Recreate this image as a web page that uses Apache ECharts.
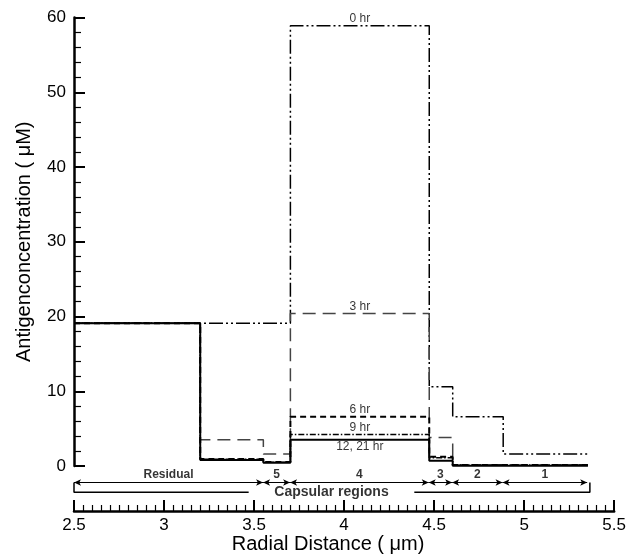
<!DOCTYPE html>
<html>
<head>
<meta charset="utf-8">
<script src="https://cdn.jsdelivr.net/npm/echarts@6/dist/echarts.min.js"></script>
<style>
  html, body { margin: 0; padding: 0; background: #fff; }
  #main { width: 629px; height: 556px; }
</style>
</head>
<body>
<div id="main"></div>
<script>
// step profiles: edges (um) and the level (uM) between each pair of edges
var edges0 = [2.5, 3.7, 4.47, 4.6, 4.88, 5.35];
var hr0 = [19.1, 58.9, 10.6, 6.6, 1.6];
var edgesT = [2.5, 3.2, 3.55, 3.7, 4.47, 4.6, 5.35];
var hr3 = [19.1, 3.5, 1.6, 20.4, 3.8, 0.15];
var hr6 = [19.1, 0.95, 0.55, 6.6, 1.25, 0.15];
var hr9 = [19.1, 0.9, 0.5, 4.2, 1.1, 0.15];
var hr12 = [19.1, 0.8, 0.45, 3.5, 0.7, 0.05];

var timeNames = ['0 hr', '3 hr', '6 hr', '9 hr', '12, 21 hr'];

// region annotation below the axis
var regionEdges = [2.5, 3.55, 3.7, 4.47, 4.6, 4.88, 5.35];
var regionNames = ['Residual', '5', '4', '3', '2', '1'];
var bracketLeft = [2.5, 3.47];
var bracketRight = [4.39, 5.365];

var font = 'Liberation Sans, Arial, sans-serif';

function steps(edges, levels) {
	return edges.map(function (x, i) {
		return [x, levels[Math.min(i, levels.length - 1)]];
	});
}

function profile(name, edges, levels, lineStyle, z) {
	return {
		name: name,
		type: 'line',
		step: 'end',
		symbol: 'none',
		z: z,
		data: steps(edges, levels),
		lineStyle: lineStyle
	};
}

var myChart = echarts.init(document.getElementById('main'));

var arrowY = -2.2, bracketY = -3.5, labelY = -1.1;

var timeLabelData = [
	[(edges0[1] + edges0[2]) / 2, hr0[1], timeNames[0], 'top'],
	[(edgesT[3] + edgesT[4]) / 2, hr3[3], timeNames[1], 'top'],
	[(edgesT[3] + edgesT[4]) / 2, hr6[3], timeNames[2], 'top'],
	[(edgesT[3] + edgesT[4]) / 2, hr9[3], timeNames[3], 'top'],
	[(edgesT[3] + edgesT[4]) / 2, hr12[3], timeNames[4], 'bottom']
];

var regionLabelData = regionNames.map(function (n, i) {
	return [(regionEdges[i] + regionEdges[i + 1]) / 2, labelY, n];
});

var option = {
	animation: false,
	grid: [
		{ left: 74, right: 14, top: 17.5, height: 448.5 },
		{ left: 74, right: 14, top: 466, height: 45 }
	],
	xAxis: [
		{ gridIndex: 0, type: 'value', min: 2.5, max: 5.5, show: false },
		{
			gridIndex: 1, type: 'value', min: 2.5, max: 5.5, interval: 0.5,
			position: 'bottom',
			name: 'Radial Distance ( \u03bcm)',
			nameLocation: 'middle',
			nameGap: 21,
			nameTextStyle: { fontFamily: font, fontSize: 20, color: '#000', padding: [0, 32, 0, 0] },
			axisLine: { onZero: false, lineStyle: { color: '#000', width: 2.5 } },
			axisTick: { inside: true, length: 11, lineStyle: { color: '#000', width: 2 } },
			minorTick: { show: true, splitNumber: 10, length: 6, lineStyle: { color: '#000', width: 1.2 } },
			axisLabel: { fontFamily: font, fontSize: 17, color: '#000', margin: 6 },
			splitLine: { show: false }
		}
	],
	yAxis: [
		{
			gridIndex: 0, type: 'value', min: 0, max: 60, interval: 10,
			name: 'Antigenconcentration ( \u03bcM)',
			nameLocation: 'middle',
			nameGap: 40,
			nameTextStyle: { fontFamily: font, fontSize: 20, color: '#000' },
			axisLine: { show: true, onZero: false, lineStyle: { color: '#000', width: 2.5 } },
			axisTick: { inside: true, length: 11, lineStyle: { color: '#000', width: 2 } },
			minorTick: { show: true, splitNumber: 5, length: 7, lineStyle: { color: '#000', width: 1.2 } },
			axisLabel: { fontFamily: font, fontSize: 17, color: '#000', margin: 8 },
			splitLine: { show: false }
		},
		{ gridIndex: 1, type: 'value', min: -6, max: 0, show: false }
	],
	series: [
		profile('0 hr', edges0, hr0, { color: '#000', width: 1.5, type: [14, 3, 2, 3, 2, 3] }, 2),
		profile('3 hr', edgesT, hr3, { color: '#444', width: 1.5, type: [13, 7] }, 3),
		profile('6 hr', edgesT, hr6, { color: '#000', width: 2, type: [6, 4] }, 4),
		profile('9 hr', edgesT, hr9, { color: '#000', width: 1.5, type: [6, 2, 1.5, 2] }, 5),
		profile('12, 21 hr', edgesT, hr12, { color: '#000', width: 2 }, 6),
		{
			type: 'scatter',
			symbolSize: 0,
			z: 7,
			data: timeLabelData.map(function (d) {
				return {
					value: [d[0], d[1]],
					label: { show: true, position: d[3], distance: 1, formatter: d[2] }
				};
			}),
			label: { fontFamily: font, fontSize: 12, color: '#000' }
		},
		{
			type: 'scatter',
			xAxisIndex: 1, yAxisIndex: 1,
			symbolSize: 0,
			data: regionLabelData.map(function (d) {
				return { value: [d[0], d[1]], label: { show: true, position: 'inside', formatter: d[2] } };
			}),
			label: { fontFamily: font, fontSize: 12, fontWeight: 'bold', color: '#000' },
			markLine: {
				silent: true,
				symbol: ['arrow', 'arrow'],
				symbolSize: [5, 7],
				label: { show: false },
				lineStyle: { color: '#000', width: 1, type: 'solid' },
				data: regionNames.map(function (n, i) {
					return [{ coord: [regionEdges[i], arrowY] }, { coord: [regionEdges[i + 1], arrowY] }];
				})
			}
		},
		{
			type: 'line',
			xAxisIndex: 1, yAxisIndex: 1,
			symbol: 'none',
			data: [[bracketLeft[0], arrowY], [bracketLeft[0], bracketY], [bracketLeft[1], bracketY]],
			lineStyle: { color: '#000', width: 1.5 }
		},
		{
			type: 'line',
			xAxisIndex: 1, yAxisIndex: 1,
			symbol: 'none',
			data: [[bracketRight[0], bracketY], [bracketRight[1], bracketY], [bracketRight[1], arrowY]],
			lineStyle: { color: '#000', width: 1.5 }
		},
		{
			type: 'scatter',
			xAxisIndex: 1, yAxisIndex: 1,
			symbolSize: 0,
			data: [{
				value: [(bracketLeft[1] + bracketRight[0]) / 2, bracketY],
				label: { show: true, position: 'inside', formatter: 'Capsular regions' }
			}],
			label: { fontFamily: font, fontSize: 14, fontWeight: 'bold', color: '#000' }
		}
	]
};

myChart.setOption(option);
</script>
</body>
</html>
